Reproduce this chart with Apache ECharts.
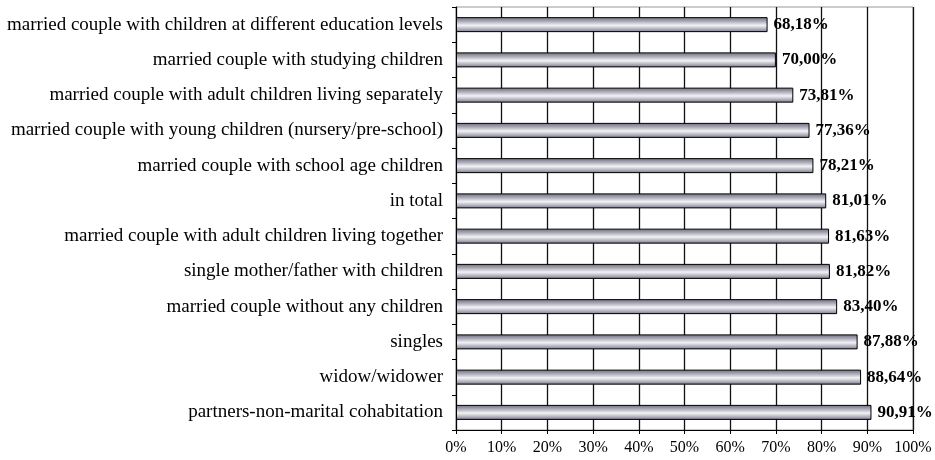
<!DOCTYPE html>
<html>
<head>
<meta charset="utf-8">
<script src="https://cdn.jsdelivr.net/npm/echarts@6/dist/echarts.min.js"></script>
<style>
  html, body { margin: 0; padding: 0; background: #fff; }
  #chart { width: 935px; height: 460px; }
</style>
</head>
<body>
<div id="chart"></div>
<script>
var categories = [
  "married couple with children at different education levels",
  "married couple with studying children",
  "married couple with adult children living separately",
  "married couple with young children (nursery/pre-school)",
  "married couple with school age children",
  "in total",
  "married couple with adult children living together",
  "single mother/father with children",
  "married couple without any children",
  "singles",
  "widow/widower",
  "partners-non-marital cohabitation"
];
var values = [68.18, 70.00, 73.81, 77.36, 78.21, 81.01, 81.63, 81.82, 83.40, 87.88, 88.64, 90.91];
var tickLabels = ["0%", "10%", "20%", "30%", "40%", "50%", "60%", "70%", "80%", "90%", "100%"];

var chart = echarts.init(document.getElementById("chart"));

var barGradient = new echarts.graphic.LinearGradient(0, 0, 0, 1, [
  { offset: 0, color: "#6c6c7c" },
  { offset: 0.25, color: "#a4a4b2" },
  { offset: 0.55, color: "#f2f2f6" },
  { offset: 0.8, color: "#b0b0bc" },
  { offset: 1, color: "#767686" }
]);

var option = {
  animation: false,
  textStyle: { fontFamily: "Liberation Serif" },
  grid: { left: 456, right: 22, top: 7, bottom: 30, show: true, borderColor: "#999", borderWidth: 1 },
  xAxis: {
    type: "value",
    min: 0,
    max: 100,
    interval: 10,
    axisLine: { show: true, lineStyle: { color: "#000", width: 1 } },
    axisTick: { show: true, length: 4, lineStyle: { color: "#000" } },
    axisLabel: {
      color: "#000",
      fontSize: 16,
      margin: 10,
      formatter: function (v) { return tickLabels[Math.round(v / 10)]; }
    },
    splitLine: { show: true, lineStyle: { color: "#111", width: 1.3 } }
  },
  yAxis: {
    type: "category",
    inverse: true,
    data: categories,
    axisLine: { show: true, lineStyle: { color: "#000", width: 1 } },
    axisTick: { show: true, length: 4, lineStyle: { color: "#000" } },
    axisLabel: { color: "#000", fontSize: 19, margin: 13 }
  },
  series: [
    {
      type: "bar",
      data: values,
      barWidth: 15,
      itemStyle: { color: barGradient, borderColor: "#000", borderWidth: 1 },
      label: {
        show: true,
        position: "right",
        distance: 6,
        color: "#000",
        fontWeight: "bold",
        fontSize: 17,
        formatter: function (p) { return p.value.toFixed(2).replace(".", ",") + "%"; }
      }
    }
  ]
};

chart.setOption(option);
</script>
</body>
</html>
